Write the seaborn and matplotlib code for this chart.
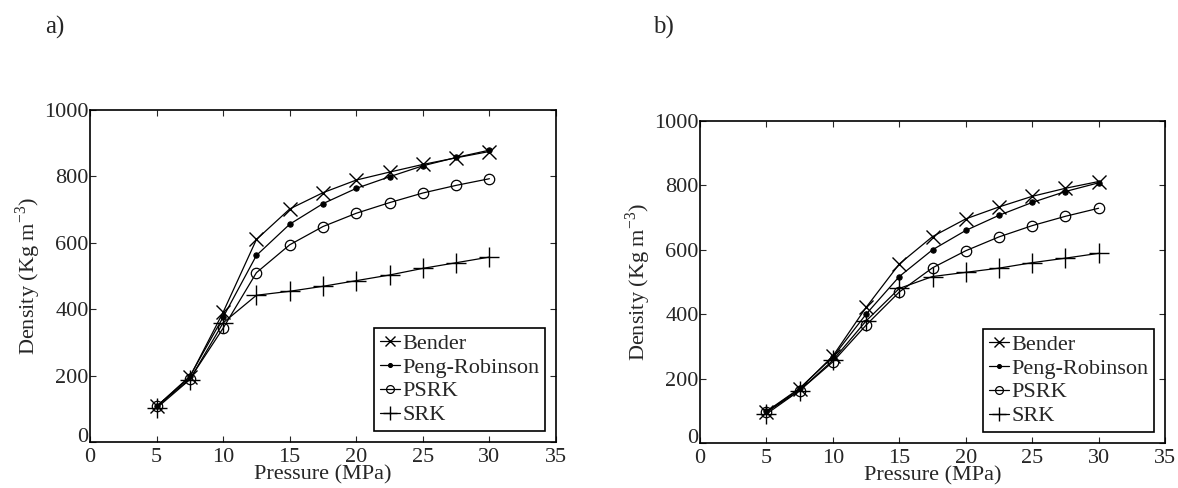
import matplotlib
matplotlib.use("Agg")
import matplotlib.pyplot as plt
import matplotlib.transforms as mtransforms
import seaborn as sns
import pandas as pd

pressure = [5, 7.5, 10, 12.5, 15, 17.5, 20, 22.5, 25, 27.5, 30]

# Panel a)
a_bender = [107, 196, 391, 610, 702, 751, 789, 813, 836, 856, 875]
a_pr     = [107, 198, 376, 562, 656, 718, 764, 799, 832, 857, 879]
a_psrk   = [107, 190, 343, 510, 594, 649, 689, 721, 750, 773, 793]
a_srk    = [102, 188, 359, 442, 454, 469, 486, 503, 523, 540, 557]

# Panel b)
b_bender = [96, 168, 270, 421, 556, 641, 696, 733, 766, 791, 812]
b_pr     = [98, 170, 267, 400, 517, 600, 660, 707, 747, 781, 808]
b_psrk   = [96, 163, 252, 366, 469, 544, 597, 640, 675, 704, 729]
b_srk    = [90, 163, 257, 379, 480, 517, 530, 543, 560, 574, 589]

series_names = ["Bender", "Peng-Robinson", "PSRK", "SRK"]
panel_labels = ["a)", "b)"]
xticks = [0, 5, 10, 15, 20, 25, 30, 35]
yticks = [0, 200, 400, 600, 800, 1000]

sns.set_style("ticks")
plt.rcParams["font.family"] = ["Liberation Serif", "DejaVu Serif"]
plt.rcParams["mathtext.fontset"] = "custom"
plt.rcParams["mathtext.rm"] = "Liberation Serif"
plt.rcParams["axes.unicode_minus"] = False
FS_TICK = 16
FS_LAB = 16
FS_LEG = 16

styles = {
    "Bender": dict(marker="x", markersize=10, markerfacecolor="k", markeredgewidth=1.0),
    "Peng-Robinson": dict(marker="o", markersize=3.8, markerfacecolor="k", markeredgewidth=0.8),
    "PSRK": dict(marker="o", markersize=7.5, markerfacecolor="none", markeredgewidth=0.9),
    "SRK": dict(marker="+", markersize=14, markerfacecolor="k", markeredgewidth=1.0),
}

fig = plt.figure(figsize=(11.78, 4.88), dpi=100)
ax_a = fig.add_axes([90 / 1178, 1 - 442 / 488, 466 / 1178, 332 / 488])
ax_b = fig.add_axes([700 / 1178, 1 - 443 / 488, 465 / 1178, 322 / 488])

panels = [
    (ax_a, [a_bender, a_pr, a_psrk, a_srk]),
    (ax_b, [b_bender, b_pr, b_psrk, b_srk]),
]

for i, (ax, data) in enumerate(panels):
    for name, vals in zip(series_names, data):
        df = pd.DataFrame({"Pressure": pressure, "Density": vals})
        sns.lineplot(data=df, x="Pressure", y="Density", ax=ax, color="k",
                     linewidth=0.9, markeredgecolor="k", label=name,
                     **styles[name])
    ax.set_xlim(0, 35)
    ax.set_ylim(0, 1000)
    ax.set_xticks(xticks)
    ax.set_yticks(yticks)
    ax.tick_params(direction="in", top=True, right=True, length=4,
                   width=0.8, labelsize=FS_TICK)
    ax.tick_params(axis="x", pad=4)
    ax.tick_params(axis="y", pad=1)
    for sp in ax.spines.values():
        sp.set_linewidth(1.2)
        sp.set_color("k")
    ax.set_xlabel("Pressure (MPa)", fontsize=FS_LAB, labelpad=-1)
    ax.set_ylabel(r"Density (Kg m$^{-3}$)", fontsize=FS_LAB, labelpad=1)
    leg = ax.legend(loc="lower right", fontsize=FS_LEG, frameon=True, fancybox=False,
                    edgecolor="k", framealpha=1, handlelength=0.9, markerscale=0.75,
                    handletextpad=0.1, borderpad=0.25, labelspacing=0.15,
                    borderaxespad=0.5)
    leg.get_frame().set_linewidth(1.2)
    # nudge the y "0" label up slightly so the two corner zeros don't collide
    shift = mtransforms.ScaledTranslation(0, 5 / 72, fig.dpi_scale_trans)
    ylab0 = ax.get_yticklabels()[0]
    ylab0.set_transform(ylab0.get_transform() + shift)

fig.text(45 / 1178, 1 - 27 / 488, panel_labels[0], fontsize=18, va="center", ha="left")
fig.text(653 / 1178, 1 - 27 / 488, panel_labels[1], fontsize=18, va="center", ha="left")

fig.savefig("out.png", dpi=100, facecolor="white")
